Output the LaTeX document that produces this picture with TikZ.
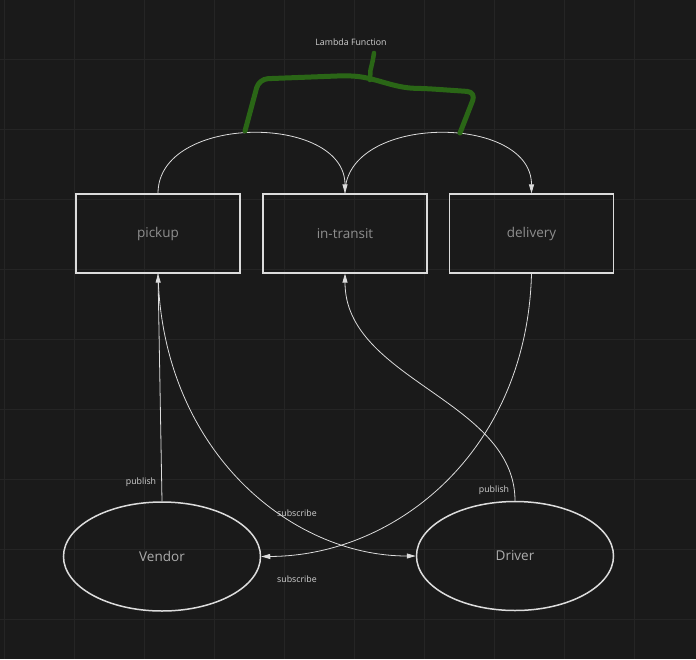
\documentclass[tikz,border=0pt]{standalone}
\usepackage{fontspec}
\setmainfont{Open Sans}
\usetikzlibrary{shapes.geometric,arrows.meta}
\definecolor{bg}{HTML}{1A1A1A}
\definecolor{gridc}{HTML}{252525}
\definecolor{edge}{HTML}{DCDCDC}
\definecolor{boxtext}{HTML}{8E8E8E}
\definecolor{elltext}{HTML}{ADADAD}
\definecolor{smalltext}{HTML}{D2D2D2}
\definecolor{lamgreen}{HTML}{2A6616}
\tikzset{
  statebox/.style={draw=edge, line width=1.2pt, rectangle, minimum width=164pt, minimum height=79pt, inner sep=0pt, text=boxtext, font=\fontsize{13.5}{16}\selectfont},
  actor/.style={draw=edge, line width=1.5pt, ellipse, minimum width=197pt, minimum height=109pt, inner sep=0pt, text=elltext, font=\fontsize{13.5}{16}\selectfont},
  conn/.style={draw=edge, line width=0.8pt, -{Triangle[width=5pt,length=9pt]}},
  lbl/.style={text=smalltext, font=\fontsize{8.8}{10}\selectfont, inner sep=0pt},
  lambda/.style={draw=lamgreen, line width=5pt, line cap=round, line join=round, rounded corners=9pt}
}
\begin{document}
\begin{tikzpicture}[x=1pt,y=-1pt]
\fill[bg] (0,0) rectangle (696,659);
\useasboundingbox (0,0) rectangle (696,659);
\foreach \gx in {4,74,...,634} \draw[gridc, line width=1pt] (\gx,0) -- (\gx,659);
\foreach \gy in {59,129,...,619} \draw[gridc, line width=1pt] (0,\gy) -- (696,\gy);

\node[statebox] (pickup) at (158,233.5) {pickup};
\node[statebox] (intransit) at (345,233.5) {in-transit};
\node[statebox] (delivery) at (531.5,233.5) {delivery};
\node[actor] (vendor) at (162,556.5) {Vendor};
\node[actor] (driver) at (515,556) {Driver};

\draw[conn] (pickup.north) .. controls +(0,-80) and +(0,-80) .. (intransit.north);
\draw[conn] (intransit.north) .. controls +(0,-80) and +(0,-80) .. (delivery.north);
\draw[conn] (vendor.north) -- (pickup.south);
\draw[conn] (pickup.south) .. controls (162,450) and (290,556) .. (driver.west);
\draw[conn] (delivery.south) .. controls (527,450) and (397,556) .. (vendor.east);
\draw[conn] (driver.north) .. controls (515,400) and (345,380) .. (intransit.south);

\node[lbl] (pub1) at (141,482) {publish};
\node[lbl] (pub2) at (494,490) {publish};
\node[lbl] (sub1) at (297,513) {subscribe};
\node[lbl] (sub2) at (297,579) {subscribe};
\node[lbl] (lam) at (351,42) {Lambda Function};

\draw[lambda] (245,131) -- (259,79) -- (350,75.5) .. controls (378,79) and (395,88) .. (425,88.5) -- (476,92) -- (460,133);
\draw[draw=lamgreen, line width=4.5pt, line cap=round] (370,80) -- (370.5,70) .. controls (372,64) and (373,60) .. (374,53);
\end{tikzpicture}
\end{document}
